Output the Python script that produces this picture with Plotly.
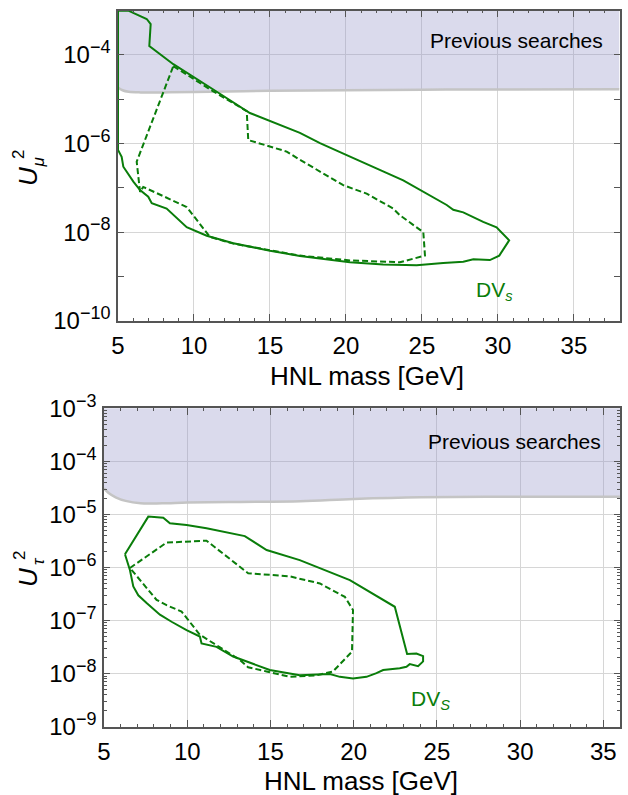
import plotly.graph_objects as go

# ---------------- data ----------------
# Top panel: U_mu^2
mu_prev_mass = [5.0, 5.3, 5.7, 6.5, 8.0, 10.0, 15.0, 20.0, 25.0, 30.0, 38.0]
mu_prev_u2 = [1.85e-5, 1.6e-5, 1.48e-5, 1.43e-5, 1.43e-5, 1.46e-5, 1.55e-5, 1.6e-5, 1.64e-5, 1.67e-5, 1.68e-5]

mu_solid_mass = [5.0, 5.68, 6.89, 7.15, 7.06, 8.64, 11.27, 13.68, 16.97, 18.29, 20.05, 23.77,
                 26.63, 27.06, 27.72, 29.03, 29.91, 30.74, 30.09, 29.47, 28.38, 27.72, 26.40,
                 24.65, 22.45, 20.26, 16.97, 15.0, 12.59, 10.84, 9.52, 8.20, 7.22, 6.99, 6.45,
                 6.01, 5.35, 5.24, 5.0, 5.0]
mu_solid_u2 = [1.0e-3, 1.0e-3, 6.5e-4, 5.0e-4, 1.6e-4, 6.2e-5, 1.66e-5, 4.9e-6, 1.74e-6, 1.02e-6,
               5.5e-7, 1.48e-7, 4.1e-8, 3.2e-8, 2.8e-8, 1.7e-8, 1.29e-8, 6.5e-9, 2.95e-9, 2.34e-9,
               2.45e-9, 2.14e-9, 2.0e-9, 1.78e-9, 1.86e-9, 2.09e-9, 2.9e-9, 3.8e-9, 5.6e-9,
               8.3e-9, 1.29e-8, 3.4e-8, 4.5e-8, 6.3e-8, 8.9e-8, 1.38e-7, 3.0e-7, 5.0e-7, 7.2e-7,
               1.0e-3]

mu_dash_mass = [8.64, 11.27, 13.47, 13.57, 16.10, 16.97, 19.82, 21.36, 23.11, 23.55, 25.09, 25.20,
                23.55, 20.26, 16.97, 12.59, 11.05, 10.39, 9.52, 6.66, 6.45, 6.23, 8.64]
mu_dash_u2 = [5.6e-5, 1.51e-5, 5.4e-6, 1.2e-6, 6.6e-7, 4.3e-7, 1.15e-7, 7.4e-8, 3.4e-8, 2.4e-8,
              1.0e-8, 2.95e-9, 2.09e-9, 2.3e-9, 2.95e-9, 5.5e-9, 7.8e-9, 1.55e-8, 3.7e-8, 1.05e-7,
              8.1e-8, 3.9e-7, 5.6e-5]

# Bottom panel: U_tau^2
tau_prev_mass = [5.0, 5.3, 5.7, 6.3, 7.2, 8.5, 10.0, 13.0, 16.8, 20.0, 24.0, 30.0, 36.0]
tau_prev_u2 = [3.1e-5, 2.5e-5, 2.1e-5, 1.8e-5, 1.62e-5, 1.62e-5, 1.67e-5, 1.72e-5, 1.78e-5,
               1.95e-5, 2.1e-5, 2.15e-5, 2.15e-5]

tau_solid_mass = [6.26, 7.66, 8.56, 8.96, 9.96, 11.16, 13.46, 14.77, 16.76, 19.77, 22.47, 23.21,
                  23.77, 24.17, 24.17, 23.87, 23.37, 23.17, 22.77, 21.77, 21.37, 20.77, 19.96,
                  19.17, 18.57, 16.76, 14.96, 13.57, 12.76, 11.76, 11.16, 10.86, 10.76, 9.96,
                  9.06, 8.36, 7.56, 7.06, 6.76, 6.56, 6.26]
tau_solid_u2 = [1.78e-6, 9.1e-6, 8.7e-6, 6.8e-6, 6.3e-6, 5.5e-6, 3.9e-6, 2.14e-6, 1.38e-6, 5.8e-7,
                1.82e-7, 2.34e-8, 2.4e-8, 2.14e-8, 1.7e-8, 1.38e-8, 1.51e-8, 1.35e-8, 1.26e-8,
                1.17e-8, 1.02e-8, 8.7e-9, 8.1e-9, 8.7e-9, 9.8e-9, 9.3e-9, 1.17e-8, 1.7e-8, 2.1e-8,
                3.2e-8, 3.5e-8, 3.7e-8, 5.0e-8, 6.6e-8, 9.5e-8, 1.29e-7, 2.14e-7, 3.0e-7, 4.4e-7,
                8.9e-7, 1.78e-6]

tau_dash_mass = [6.56, 8.76, 11.16, 13.66, 16.16, 17.97, 19.47, 19.96, 19.90, 18.76, 17.77, 16.16,
                 14.77, 13.66, 13.16, 12.56, 11.56, 10.76, 9.66, 8.76, 8.16, 7.36, 6.56]
tau_dash_u2 = [9.8e-7, 2.95e-6, 3.2e-6, 7.8e-7, 6.8e-7, 5.0e-7, 2.8e-7, 1.58e-7, 2.6e-8, 1.1e-8,
               9.3e-9, 8.7e-9, 1.1e-8, 1.32e-8, 1.82e-8, 2.4e-8, 3.7e-8, 5.4e-8, 1.48e-7, 1.95e-7,
               2.45e-7, 5.0e-7, 9.8e-7]

x_ticks_top = [5, 10, 15, 20, 25, 30, 35]
x_ticks_bot = [5, 10, 15, 20, 25, 30, 35]
y_exps_top = [-10, -8, -6, -4]
y_exps_top_minor = [-9, -7, -5, -3]
y_exps_bot = [-9, -8, -7, -6, -5, -4, -3]

# ---------------- style ----------------
W, H = 628, 795
FONT = "Liberation Sans, Arial, sans-serif"
GREEN = "#0a7d0a"
FILL = "rgba(150,150,200,0.35)"
EDGE = "#c4c4c4"
AXC = "#555555"
GRID = "#d6d6d6"

def px(x):
    return x / W

def py(y):
    return 1 - y / H

fig = go.Figure()

# Top panel
fig.add_trace(go.Scatter(x=mu_prev_mass + mu_prev_mass[::-1],
                         y=mu_prev_u2 + [1e-2] * len(mu_prev_mass),
                         fill="toself", fillcolor=FILL, line=dict(width=0),
                         mode="lines", hoverinfo="skip", xaxis="x", yaxis="y"))
fig.add_trace(go.Scatter(x=mu_prev_mass, y=mu_prev_u2, mode="lines",
                         line=dict(color=EDGE, width=2.5, shape="spline"), xaxis="x", yaxis="y"))
fig.add_trace(go.Scatter(x=mu_solid_mass, y=mu_solid_u2, mode="lines",
                         line=dict(color=GREEN, width=2), xaxis="x", yaxis="y"))
fig.add_trace(go.Scatter(x=mu_dash_mass, y=mu_dash_u2, mode="lines",
                         line=dict(color=GREEN, width=2, dash="6px,3px"), xaxis="x", yaxis="y"))

# Bottom panel
fig.add_trace(go.Scatter(x=tau_prev_mass + tau_prev_mass[::-1],
                         y=tau_prev_u2 + [1e-2] * len(tau_prev_mass),
                         fill="toself", fillcolor=FILL, line=dict(width=0),
                         mode="lines", hoverinfo="skip", xaxis="x2", yaxis="y2"))
fig.add_trace(go.Scatter(x=tau_prev_mass, y=tau_prev_u2, mode="lines",
                         line=dict(color=EDGE, width=2.5, shape="spline"), xaxis="x2", yaxis="y2"))
fig.add_trace(go.Scatter(x=tau_solid_mass, y=tau_solid_u2, mode="lines",
                         line=dict(color=GREEN, width=2), xaxis="x2", yaxis="y2"))
fig.add_trace(go.Scatter(x=tau_dash_mass, y=tau_dash_u2, mode="lines",
                         line=dict(color=GREEN, width=2, dash="6px,3px"), xaxis="x2", yaxis="y2"))

def sup_label(e):
    return "10<sup><span style='font-size:18px'>\u2212%d</span></sup>" % (-e)

common_axis = dict(showline=True, linecolor=AXC, linewidth=1.5, mirror="ticks",
                   ticks="inside", tickcolor=AXC, tickwidth=1, showgrid=True,
                   gridcolor=GRID, gridwidth=1, zeroline=False, automargin=False,
                   tickfont=dict(family=FONT, size=24, color="black"))

bot_minor = [k * 10.0 ** e for e in range(-9, -3) for k in range(2, 10)]

fig.update_layout(
    template="none",
    width=W, height=H, margin=dict(l=0, r=0, t=0, b=0, pad=0), autosize=False,
    paper_bgcolor="white", plot_bgcolor="white", showlegend=False,
    xaxis=dict(common_axis, domain=[px(118), px(619.5)], anchor="y", range=[5, 38],
               tickvals=x_ticks_top, ticktext=[str(v) for v in x_ticks_top], ticklen=7,
               ticklabelstandoff=3,
               minor=dict(dtick=1, tick0=5, ticks="inside", ticklen=3, tickcolor=AXC, showgrid=False)),
    yaxis=dict(common_axis, domain=[py(320.7), py(10.7)], anchor="x", type="log", range=[-10, -3],
               tickvals=[10.0 ** e for e in y_exps_top], ticktext=[sup_label(e) for e in y_exps_top],
               ticklen=6, ticklabelstandoff=1,
               minor=dict(tickvals=[10.0 ** e for e in y_exps_top_minor], ticks="inside",
                          ticklen=6, tickcolor=AXC, showgrid=False)),
    xaxis2=dict(common_axis, domain=[px(104), px(620)], anchor="y2", range=[5, 36],
                tickvals=x_ticks_bot, ticktext=[str(v) for v in x_ticks_bot], ticklen=7,
                ticklabelstandoff=3,
                minor=dict(dtick=1, tick0=5, ticks="inside", ticklen=3, tickcolor=AXC, showgrid=False)),
    yaxis2=dict(common_axis, domain=[py(726.7), py(408.3)], anchor="x2", type="log", range=[-9, -3],
                tickvals=[10.0 ** e for e in y_exps_bot], ticktext=[sup_label(e) for e in y_exps_bot],
                ticklen=6, ticklabelstandoff=1,
                minor=dict(tickvals=bot_minor, ticks="inside", ticklen=3, tickcolor=AXC, showgrid=False)),
)

ann = []
# axis titles (x)
ann.append(dict(text="HNL mass [GeV]", x=px(367.5), y=py(376), xref="paper", yref="paper",
                showarrow=False, xanchor="center", yanchor="middle",
                font=dict(family=FONT, size=26, color="black")))
ann.append(dict(text="HNL mass [GeV]", x=px(361), y=py(781), xref="paper", yref="paper",
                showarrow=False, xanchor="center", yanchor="middle",
                font=dict(family=FONT, size=26, color="black")))
# y titles built from pieces (stacked sub/superscripts)
for (uy, sy, suby, sym) in [(176.5, 155, 162.5, "\u03bc"), (577.5, 556, 561, "\u03c4")]:
    ann.append(dict(text="<i>U</i>", x=px(27.5), y=py(uy), xref="paper", yref="paper",
                    showarrow=False, textangle=-90, xanchor="center", yanchor="middle",
                    font=dict(family=FONT, size=26, color="black")))
    ann.append(dict(text="2", x=px(19), y=py(sy), xref="paper", yref="paper",
                    showarrow=False, textangle=-90, xanchor="center", yanchor="middle",
                    font=dict(family=FONT, size=17, color="black")))
    ann.append(dict(text="<i>%s</i>" % sym, x=px(38), y=py(suby), xref="paper", yref="paper",
                    showarrow=False, textangle=-90, xanchor="center", yanchor="middle",
                    font=dict(family=FONT, size=17, color="black")))
# region labels
ann.append(dict(text="Previous searches", x=37.05, y=-3.68, xref="x", yref="y",
                showarrow=False, xanchor="right", yanchor="middle",
                font=dict(family=FONT, size=21, color="black")))
ann.append(dict(text="Previous searches", x=34.95, y=-3.63, xref="x2", yref="y2",
                showarrow=False, xanchor="right", yanchor="middle",
                font=dict(family=FONT, size=21, color="black")))
ann.append(dict(text="DV<sub><i>s</i></sub>", x=28.45, y=-9.33, xref="x", yref="y",
                showarrow=False, xanchor="left", yanchor="middle",
                font=dict(family=FONT, size=21, color=GREEN)))
ann.append(dict(text="DV<sub><i>S</i></sub>", x=23.3, y=-8.5, xref="x2", yref="y2",
                showarrow=False, xanchor="left", yanchor="middle",
                font=dict(family=FONT, size=21, color=GREEN)))
fig.update_layout(annotations=ann)

fig.write_html("out.html", config={"displayModeBar": False},
               post_script="document.body.style.margin='0';")
